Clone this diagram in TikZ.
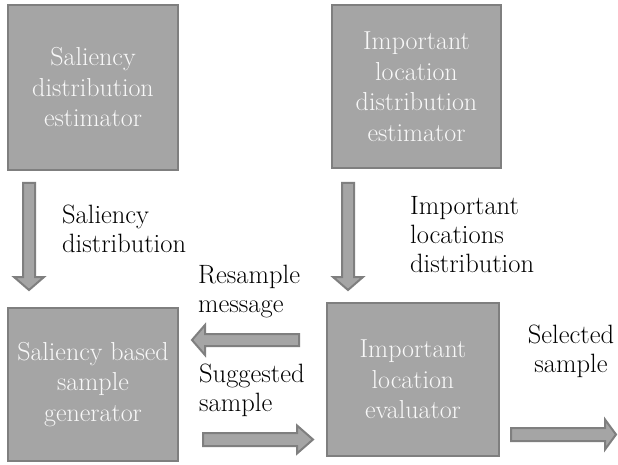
\documentclass[tikz,border=0pt]{standalone}
\usepackage{fontspec}
\usetikzlibrary{calc}
\definecolor{boxfill}{HTML}{A5A5A5}
\definecolor{boxline}{HTML}{7F7F7F}
\definecolor{boxtext}{HTML}{F8F8F8}
% block arrows between two named coordinates: #1 start, #2 tip, #3 shaft half, #4 head half, #5 head length
\newcommand\blockdown[5]{\draw[barrow] ($(#1)+(-#3,0)$) -- ($(#2)+(-#3,-#5)$) -- ($(#2)+(-#4,-#5)$) -- (#2) -- ($(#2)+(#4,-#5)$) -- ($(#2)+(#3,-#5)$) -- ($(#1)+(#3,0)$) -- cycle;}
\newcommand\blockleft[5]{\draw[barrow] ($(#1)+(0,-#3)$) -- ($(#2)+(#5,-#3)$) -- ($(#2)+(#5,-#4)$) -- (#2) -- ($(#2)+(#5,#4)$) -- ($(#2)+(#5,#3)$) -- ($(#1)+(0,#3)$) -- cycle;}
\newcommand\blockright[5]{\draw[barrow] ($(#1)+(0,-#3)$) -- ($(#2)+(-#5,-#3)$) -- ($(#2)+(-#5,-#4)$) -- (#2) -- ($(#2)+(-#5,#4)$) -- ($(#2)+(-#5,#3)$) -- ($(#1)+(0,#3)$) -- cycle;}
\begin{document}
\begin{tikzpicture}[x=1pt,y=-1pt,
  box/.style={draw=boxline, line width=2pt, fill=boxfill, text=boxtext, align=center,
    font=\rmfamily\fontsize{26}{30.5}\selectfont, inner sep=0pt},
  lab/.style={text=black, font=\rmfamily\fontsize{26.5}{29}\selectfont, inner sep=0pt},
  barrow/.style={draw=boxline, line width=2pt, fill=boxfill, line join=miter}]
\useasboundingbox (0,0) rectangle (618,465);
\fill[white] (0,0) rectangle (618,465);
% boxes
\node[box, minimum width=170pt, minimum height=165pt] (b1) at (93,87.5) {Saliency\\distribution\\estimator};
\node[box, minimum width=169pt, minimum height=163pt] (b2) at (416.5,86.5) {Important\\location\\distribution\\estimator};
\node[box, minimum width=170pt, minimum height=153pt] (b3) at (93,384.5) {Saliency based\\sample\\generator};
\node[box, minimum width=172pt, minimum height=153pt] (b4) at (413,379.5) {Important\\location\\evaluator};
% labels
\node[lab, anchor=west, align=left] (l1) at (62,228.6) {Saliency\\distribution};
\node[lab, anchor=west, align=left] (l2) at (410,235) {Important\\locations\\distribution};
\node[lab, anchor=west, align=left] (l3) at (198,291.5) {Resample\\message};
\node[lab, anchor=west, align=left] (l4) at (199,390) {Suggested\\sample};
\node[lab, align=center] (l5) at (571,351.5) {Selected\\sample};
% arrow end points
\coordinate (a1s) at (29,183);   \coordinate (a1e) at (29,290);
\coordinate (a2s) at (348,183);  \coordinate (a2e) at (348,290);
\coordinate (a3s) at (299,340);  \coordinate (a3e) at (192,340);
\coordinate (a4s) at (203,439.5);\coordinate (a4e) at (313,439.5);
\coordinate (a5s) at (511,434.5);\coordinate (a5e) at (616,434.5);
\blockdown{a1s}{a1e}{6}{15}{13}
\blockdown{a2s}{a2e}{6}{15}{13}
\blockleft{a3s}{a3e}{6}{15}{13}
\blockright{a4s}{a4e}{6.5}{14}{16}
\blockright{a5s}{a5e}{6.5}{15}{11}
\end{tikzpicture}
\end{document}
